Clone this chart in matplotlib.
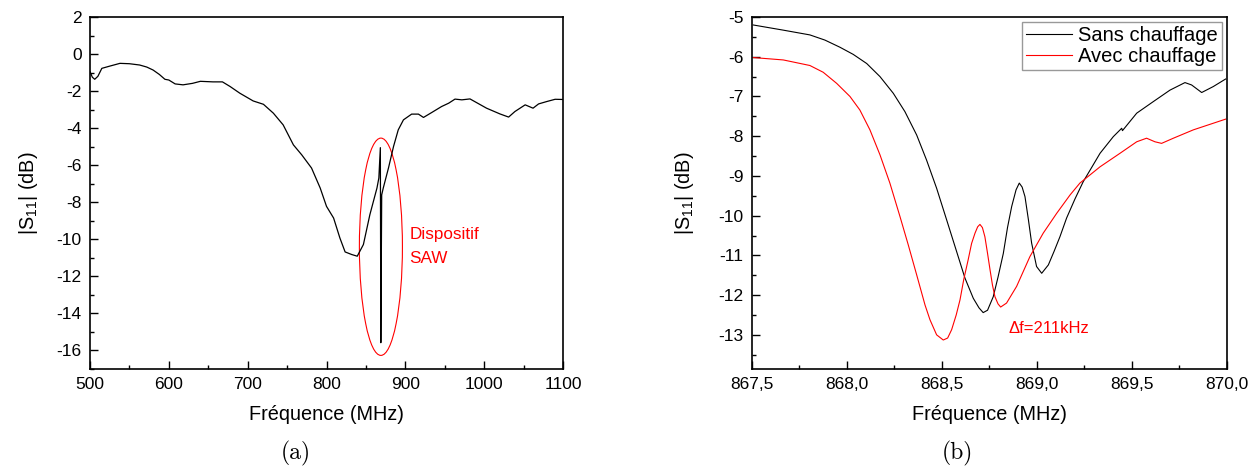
import matplotlib
matplotlib.use("Agg")
import matplotlib.pyplot as plt
from matplotlib.patches import Ellipse
from matplotlib.ticker import MultipleLocator, FuncFormatter

plt.rcParams['font.family'] = ['Liberation Sans', 'DejaVu Sans']
plt.rcParams['mathtext.fontset'] = 'custom'
plt.rcParams['mathtext.rm'] = 'Liberation Sans'
plt.rcParams['mathtext.it'] = 'Liberation Sans:italic'

# (a) large band S11
freq_a = [500, 503, 506, 510, 515, 525, 538, 550, 563, 572, 580, 588, 595, 600,
          608, 618, 630, 640, 656, 668, 677.7, 690, 707, 720, 732.6, 745, 758,
          768.6, 781, 792, 800, 809, 817, 823.6, 832, 839, 846.8, 855, 864,
          866.4, 868.3, 868.9, 870, 872, 878.6, 885, 891, 897.6, 908, 916.6,
          923, 933.6, 946, 955, 963, 971.7, 982, 1003, 1020, 1031, 1039, 1052,
          1062, 1069, 1079.5, 1090, 1100]
s11_a = [-0.95, -1.25, -1.36, -1.2, -0.77, -0.65, -0.5, -0.52, -0.59, -0.7,
         -0.86, -1.1, -1.36, -1.4, -1.61, -1.66, -1.58, -1.47, -1.5, -1.5,
         -1.75, -2.11, -2.53, -2.71, -3.19, -3.82, -4.9, -5.44, -6.15, -7.23,
         -8.22, -8.85, -9.93, -10.68, -10.82, -10.91, -10.28, -8.67, -7.23,
         -6.69, -5.05, -15.58, -7.6, -7.23, -6.15, -4.99, -4.09, -3.55, -3.24,
         -3.24, -3.42, -3.15, -2.83, -2.65, -2.43, -2.47, -2.42, -2.92, -3.23,
         -3.4, -3.1, -2.74, -2.92, -2.69, -2.56, -2.44, -2.45]

# (b) zoom around SAW resonance
freq_sans = [867.507, 867.665, 867.805, 867.884, 867.963, 868.033, 868.104,
             868.174, 868.244, 868.305, 868.367, 868.419, 868.472, 868.525,
             868.577, 868.621, 868.665, 868.695, 868.717, 868.74, 868.77,
             868.795, 868.823, 868.845, 868.867, 868.89, 868.907, 868.922,
             868.937, 868.955, 868.972, 868.998, 869.025, 869.06, 869.09,
             869.121, 869.156, 869.2, 869.244, 869.29, 869.332, 869.402,
             869.446, 869.45, 869.525, 869.612, 869.7, 869.779, 869.814,
             869.867, 869.928, 869.993]
s11_sans = [-5.2, -5.33, -5.45, -5.58, -5.76, -5.94, -6.17, -6.5, -6.92, -7.38,
            -7.97, -8.6, -9.31, -10.11, -10.9, -11.57, -12.08, -12.32, -12.44,
            -12.38, -12.04, -11.55, -10.95, -10.3, -9.77, -9.35, -9.18, -9.28,
            -9.52, -10.1, -10.69, -11.28, -11.45, -11.24, -10.9, -10.53, -10.06,
            -9.58, -9.14, -8.77, -8.43, -8.01, -7.8, -7.86, -7.42, -7.13,
            -6.84, -6.65, -6.71, -6.9, -6.75, -6.56]

freq_avec = [867.507, 867.665, 867.805, 867.875, 867.946, 868.016, 868.068,
             868.121, 868.174, 868.226, 868.279, 868.323, 868.367, 868.411,
             868.437, 868.472, 868.507, 868.53, 868.551, 868.575, 868.595,
             868.615, 868.638, 868.656, 868.674, 868.688, 868.7, 868.713,
             868.726, 868.74, 868.753, 868.766, 868.779, 868.795, 868.809,
             868.84, 868.893, 868.963, 869.033, 869.104, 869.174, 869.226,
             869.332, 869.437, 869.525, 869.577, 869.621, 869.656, 869.718,
             869.823, 869.993]
s11_avec = [-6.02, -6.08, -6.22, -6.39, -6.67, -7.0, -7.34, -7.84, -8.47, -9.18,
            -10.02, -10.74, -11.49, -12.25, -12.62, -13.0, -13.13, -13.08,
            -12.87, -12.5, -12.12, -11.6, -11.11, -10.7, -10.44, -10.28, -10.22,
            -10.3, -10.53, -10.95, -11.36, -11.75, -12.04, -12.22, -12.3, -12.2,
            -11.78, -11.03, -10.44, -9.94, -9.48, -9.18, -8.77, -8.43, -8.14,
            -8.05, -8.14, -8.18, -8.05, -7.84, -7.57]

fig = plt.figure(figsize=(12.57, 4.68), dpi=100)
ax1 = fig.add_axes([0.0716, 0.2115, 0.3763, 0.7521])
ax2 = fig.add_axes([0.5982, 0.2115, 0.3779, 0.7521])

ax1.plot(freq_a, s11_a, color='black', lw=0.9)
ax1.add_patch(Ellipse((869, -10.4), 54.6, 11.73, fill=False, edgecolor='red', lw=0.8))
ax1.text(905, -9.75, 'Dispositif', color='red', fontsize=12.3, va='center')
ax1.text(905, -11.05, 'SAW', color='red', fontsize=12.3, va='center')
ax1.set_xlim(500, 1100)
ax1.set_ylim(-17, 2)
ax1.xaxis.set_major_locator(MultipleLocator(100))
ax1.xaxis.set_minor_locator(MultipleLocator(50))
ax1.yaxis.set_major_locator(MultipleLocator(2))
ax1.yaxis.set_minor_locator(MultipleLocator(1))
ax1.yaxis.set_major_formatter(FuncFormatter(lambda v, p: f'{v:.0f}'))

ax2.plot(freq_sans, s11_sans, color='black', lw=0.8, label='Sans chauffage')
ax2.plot(freq_avec, s11_avec, color='red', lw=0.8, label='Avec chauffage')
ax2.text(868.85, -12.85, 'Δf=211kHz', color='red', fontsize=12, va='center')
ax2.set_xlim(867.5, 870.0)
ax2.set_ylim(-13.86, -5)
ax2.xaxis.set_major_locator(MultipleLocator(0.5))
ax2.xaxis.set_minor_locator(MultipleLocator(0.25))
ax2.yaxis.set_major_locator(MultipleLocator(1))
ax2.yaxis.set_minor_locator(MultipleLocator(0.5))
ax2.xaxis.set_major_formatter(FuncFormatter(lambda v, p: f'{v:.1f}'.replace('.', ',')))
ax2.yaxis.set_major_formatter(FuncFormatter(lambda v, p: f'{v:.0f}'))
leg = ax2.legend(loc='upper right', fontsize=14.5, frameon=True, fancybox=False,
                 edgecolor='gray', handlelength=2.3, handletextpad=0.3,
                 borderpad=0.2, labelspacing=0.1, borderaxespad=0.25)
leg.get_frame().set_linewidth(1.0)

for ax in (ax1, ax2):
    for sp in ax.spines.values():
        sp.set_linewidth(1.2)
    ax.tick_params(which='both', direction='in', top=False, right=False,
                   labelsize=12.5, width=1.0)
    ax.tick_params(which='major', length=6, pad=6)
    ax.tick_params(which='minor', length=3)
    ax.set_xlabel('Fréquence (MHz)', fontsize=14.3, labelpad=9)
ax1.set_ylabel('|S$_{11}$| (dB)', fontsize=14.3, labelpad=12)
ax2.set_ylabel('|S$_{11}$| (dB)', fontsize=14.3, labelpad=16)

fig.text(0.2355, 0.032, '(a)', family='cmr10', fontsize=17, ha='center', va='center')
fig.text(0.762, 0.032, '(b)', family='cmr10', fontsize=17, ha='center', va='center')

fig.savefig('out.png', dpi=100)
